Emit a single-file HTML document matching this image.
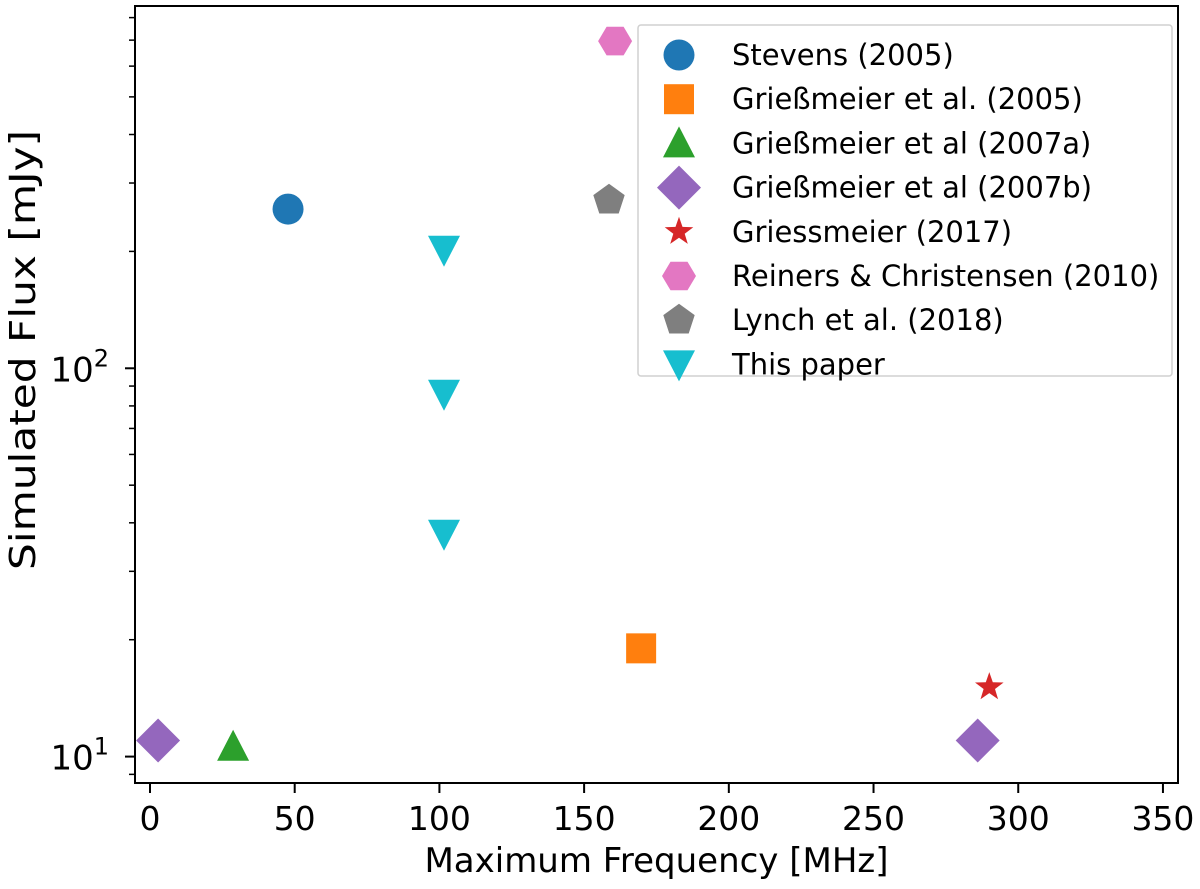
<!DOCTYPE html>
<html><head><meta charset="utf-8"><style>
body{margin:0;background:#fff;}
svg{display:block;font-family:"DejaVu Sans","Liberation Sans",sans-serif;}
</style></head><body>
<svg id="chart" width="1200" height="889"></svg>
<script>
const seriesNames=["Stevens (2005)","Grießmeier et al. (2005)","Grießmeier et al (2007a)","Grießmeier et al (2007b)","Griessmeier (2017)","Reiners & Christensen (2010)","Lynch et al. (2018)","This paper"];
const seriesColors=["#1f77b4","#ff7f0e","#2ca02c","#9467bd","#d62728","#e377c2","#7f7f7f","#17becf"];
const seriesMarkers=["circle","square","triangle","diamond","star","hexagon","pentagon","tridown"];
const seriesX=[[47.7],[169.7],[28.7],[2.8,286],[290],[160.7],[158.6],[101.6,101.6,101.6]];
const seriesY=[[257],[19],[10.6],[11,11],[15.1],[696],[271],[202,86,37.5]];
const xTicks=[0,50,100,150,200,250,300,350];
const yMajor=[1,2];
const yMinor=[9,20,30,40,50,60,70,80,90,200,300,400,500,600,700,800];

const L=135,R=1178,T=6,B=783;
const xmin=-5.18,xmax=355.2;
const lmin=0.932,lmax=2.933;
const X=v=>L+(v-xmin)/(xmax-xmin)*(R-L);
const Y=v=>B-(Math.log10(v)-lmin)/(lmax-lmin)*(B-T);
const svg=document.getElementById('chart');
const NS='http://www.w3.org/2000/svg';
function mk(tag,attrs,parent){const e=document.createElementNS(NS,tag);for(const k in attrs)e.setAttribute(k,attrs[k]);(parent||svg).appendChild(e);return e;}

function marker(type,cx,cy,color,parent){
  let e;
  const poly=(pts)=>mk('polygon',{points:pts.map(p=>(cx+p[0]).toFixed(1)+','+(cy+p[1]).toFixed(1)).join(' '),fill:color},parent);
  if(type==='circle')e=mk('circle',{cx:cx,cy:cy,r:15.5,fill:color},parent);
  else if(type==='square')e=mk('rect',{x:cx-15,y:cy-15,width:30,height:30,fill:color},parent);
  else if(type==='triangle')e=poly([[0,-17],[16,14],[-16,14]]);
  else if(type==='tridown')e=poly([[0,17],[16,-14],[-16,-14]]);
  else if(type==='diamond')e=poly([[0,-22],[22,0],[0,22],[-22,0]]);
  else{
    let pts=[];
    if(type==='star'){for(let i=0;i<10;i++){const a=-Math.PI/2+i*Math.PI/5,r=i%2?6:15;pts.push([r*Math.cos(a),r*Math.sin(a)]);}}
    else if(type==='hexagon'){for(let i=0;i<6;i++){const a=i*Math.PI/3;pts.push([17*Math.cos(a),16.5*Math.sin(a)]);}}
    else if(type==='pentagon'){for(let i=0;i<5;i++){const a=-Math.PI/2+i*2*Math.PI/5;pts.push([16.5*Math.cos(a),16.5*Math.sin(a)]);}}
    e=poly(pts);
  }
  return e;
}

xTicks.forEach(v=>{
  const x=X(v);
  const t=mk('line',{x1:x,y1:B,x2:x,y2:B+10,stroke:'#000','stroke-width':2});
  
  
  const l=mk('text',{x:x,y:B+47,'font-size':33,'text-anchor':'middle',fill:'#000'});
  l.textContent=v;
  
  
});
yMajor.forEach(p=>{
  const y=Y(Math.pow(10,p));
  const t=mk('line',{x1:L-10,y1:y,x2:L,y2:y,stroke:'#000','stroke-width':2});
  
  
  const l=mk('text',{x:L-26,y:y+13,'font-size':34,'text-anchor':'end',fill:'#000'});
  l.innerHTML='10<tspan dy="-15" font-size="24">'+p+'</tspan>';
  
  
});
yMinor.forEach(v=>{
  const y=Y(v);
  if(y<T||y>B)return;
  const t=mk('line',{x1:L-6,y1:y,x2:L,y2:y,stroke:'#000','stroke-width':1.5});
  
  
});

seriesNames.forEach((n,i)=>{
  const g=mk('g',{});
  
  
  seriesX[i].forEach((xv,j)=>{
    const m=marker(seriesMarkers[i],X(xv),Y(seriesY[i][j]),seriesColors[i],g);
    
    
  });
});

const fr=mk('rect',{x:L,y:T,width:R-L,height:B-T,fill:'none',stroke:'#000','stroke-width':2});



const lg=mk('g',{});


mk('rect',{x:638,y:25,width:534,height:351,rx:3,fill:'#fff','fill-opacity':0.8,stroke:'#d0d0d0','stroke-width':1.5},lg);
seriesNames.forEach((n,i)=>{
  const y=55+i*44.2;
  const m=marker(seriesMarkers[i],679,y,seriesColors[i],lg);
  
  
  const t=mk('text',{x:732,y:y+10,'font-size':29,fill:'#000'},lg);
  t.textContent=n;
  
  
});

const xt=mk('text',{x:(L+R)/2,y:872,'font-size':34,'text-anchor':'middle',fill:'#000'});
xt.textContent='Maximum Frequency [MHz]';


const yt=mk('text',{x:0,y:0,'font-size':36,'text-anchor':'middle',fill:'#000',textLength:440,lengthAdjust:'spacingAndGlyphs',transform:'translate(35,350) rotate(-90)'});
yt.textContent='Simulated Flux [mJy]';


</script>
</body></html>
